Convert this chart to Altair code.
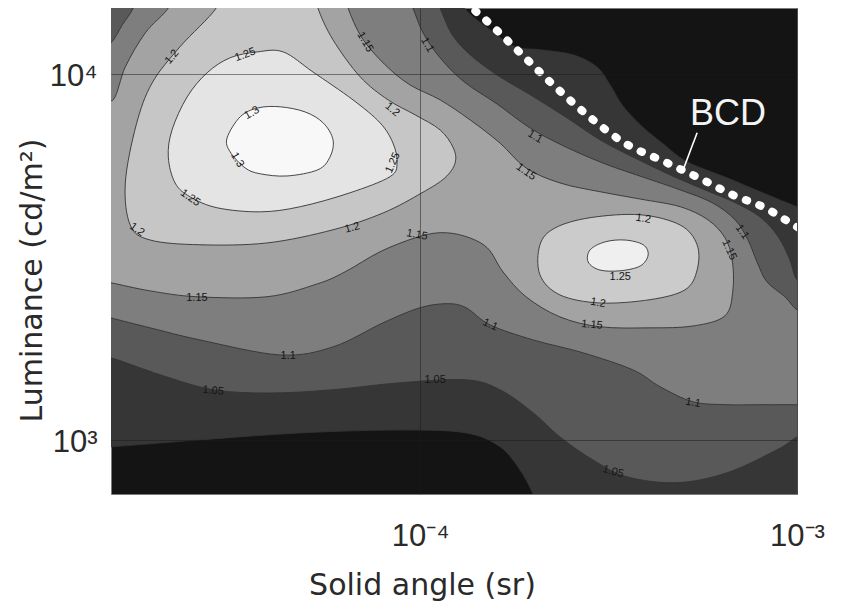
import altair as alt
import numpy as np
import pandas as pd

# Axis extents (log10 units)
x_domain_log = [-4.82, -3.0]      # solid angle, sr
y_domain_log = [2.852, 4.18]      # luminance, cd/m2

# Filled contour regions: vertices as (log10 solid angle, log10 luminance)
r100 = [(-4.862, 2.981), (-4.820, 2.981), (-4.584, 3.000), (-4.318, 3.019), (-4.053, 3.027),
        (-3.878, 3.019), (-3.788, 2.981), (-3.735, 2.918), (-3.700, 2.852), (-3.682, 2.803),
        (-2.952, 2.803), (-2.952, 3.623), (-3.000, 3.637), (-3.098, 3.678), (-3.186, 3.716),
        (-3.292, 3.760), (-3.358, 3.811), (-3.416, 3.861), (-3.464, 3.915), (-3.496, 3.970),
        (-3.531, 4.019), (-3.594, 4.052), (-3.682, 4.066), (-3.748, 4.074), (-3.814, 4.120),
        (-3.883, 4.180), (-3.894, 4.230), (-4.862, 4.230)]
r105 = [(-4.862, 3.224), (-4.820, 3.224), (-4.690, 3.178), (-4.549, 3.137), (-4.398, 3.128),
        (-4.231, 3.137), (-4.053, 3.156), (-3.878, 3.164), (-3.788, 3.137), (-3.700, 3.074),
        (-3.629, 3.008), (-3.541, 2.945), (-3.451, 2.899), (-3.318, 2.883), (-3.186, 2.910),
        (-3.053, 2.973), (-3.000, 3.008), (-2.952, 3.027), (-2.952, 3.410), (-3.000, 3.437),
        (-3.019, 3.492), (-3.050, 3.555), (-3.098, 3.609), (-3.164, 3.648), (-3.244, 3.683),
        (-3.337, 3.724), (-3.430, 3.770), (-3.523, 3.820), (-3.615, 3.883), (-3.708, 3.943),
        (-3.796, 3.997), (-3.867, 4.052), (-3.915, 4.107), (-3.947, 4.180), (-3.968, 4.230),
        (-4.862, 4.230)]
r110 = [(-4.862, 4.066), (-4.820, 4.085), (-4.790, 4.134), (-4.761, 4.180), (-4.751, 4.230),
        (-4.040, 4.230), (-4.019, 4.180), (-3.992, 4.112), (-3.947, 4.044), (-3.883, 3.978),
        (-3.796, 3.918), (-3.708, 3.852), (-3.615, 3.801), (-3.509, 3.754), (-3.403, 3.716),
        (-3.310, 3.683), (-3.225, 3.648), (-3.164, 3.601), (-3.130, 3.546), (-3.106, 3.486),
        (-3.080, 3.432), (-3.032, 3.391), (-3.000, 3.355), (-2.952, 3.333), (-2.952, 3.096),
        (-3.000, 3.096), (-3.098, 3.096), (-3.186, 3.096), (-3.276, 3.104), (-3.363, 3.145),
        (-3.435, 3.191), (-3.568, 3.238), (-3.700, 3.273), (-3.814, 3.314), (-3.878, 3.361),
        (-3.928, 3.372), (-4.000, 3.361), (-4.098, 3.320), (-4.231, 3.254), (-4.371, 3.232),
        (-4.584, 3.273), (-4.716, 3.306), (-4.820, 3.333), (-4.862, 3.342)]
r115 = [(-4.862, 3.915), (-4.814, 3.929), (-4.782, 4.019), (-4.729, 4.112), (-4.668, 4.180),
        (-4.658, 4.230), (-4.199, 4.230), (-4.191, 4.180), (-4.154, 4.098), (-4.093, 4.025),
        (-4.027, 3.970), (-3.947, 3.929), (-3.867, 3.874), (-3.788, 3.811), (-3.719, 3.743),
        (-3.629, 3.702), (-3.523, 3.678), (-3.416, 3.658), (-3.310, 3.637), (-3.236, 3.601),
        (-3.191, 3.552), (-3.172, 3.492), (-3.170, 3.410), (-3.191, 3.339), (-3.276, 3.311),
        (-3.390, 3.306), (-3.523, 3.309), (-3.629, 3.336), (-3.719, 3.391), (-3.780, 3.459),
        (-3.822, 3.525), (-3.883, 3.557), (-3.947, 3.566), (-4.013, 3.552), (-4.106, 3.514),
        (-4.199, 3.459), (-4.273, 3.426), (-4.406, 3.391), (-4.592, 3.391), (-4.716, 3.407),
        (-4.820, 3.429), (-4.862, 3.434)]
r120_left = [(-4.541, 4.230), (-4.541, 4.180), (-4.637, 4.074), (-4.711, 3.975), (-4.753, 3.861),
             (-4.782, 3.702), (-4.769, 3.587), (-4.716, 3.546), (-4.584, 3.533), (-4.406, 3.538),
             (-4.231, 3.574), (-4.098, 3.620), (-3.995, 3.675), (-3.934, 3.716), (-3.907, 3.757),
             (-3.912, 3.798), (-3.947, 3.847), (-4.013, 3.888), (-4.085, 3.929), (-4.159, 3.992),
             (-4.231, 4.093), (-4.271, 4.180), (-4.276, 4.230)]
r125_left = [(-4.432, 4.060), (-4.363, 4.060), (-4.284, 4.005), (-4.178, 3.929), (-4.106, 3.866),
             (-4.072, 3.811), (-4.061, 3.757), (-4.080, 3.719), (-4.186, 3.675), (-4.318, 3.637),
             (-4.424, 3.623), (-4.538, 3.634), (-4.610, 3.664), (-4.650, 3.702), (-4.668, 3.773),
             (-4.658, 3.847), (-4.618, 3.937), (-4.565, 4.003), (-4.504, 4.044)]
r130_left = [(-4.371, 3.910), (-4.305, 3.896), (-4.257, 3.866), (-4.231, 3.820), (-4.239, 3.773),
             (-4.271, 3.738), (-4.353, 3.721), (-4.424, 3.727), (-4.464, 3.743), (-4.504, 3.787),
             (-4.512, 3.825), (-4.477, 3.883), (-4.430, 3.907)]
r120_right = [(-3.682, 3.533), (-3.642, 3.579), (-3.549, 3.607), (-3.416, 3.615), (-3.310, 3.587),
              (-3.265, 3.533), (-3.265, 3.464), (-3.297, 3.410), (-3.390, 3.383), (-3.523, 3.374),
              (-3.629, 3.396), (-3.682, 3.451)]
r125_right = [(-3.549, 3.519), (-3.509, 3.541), (-3.456, 3.546), (-3.408, 3.533), (-3.395, 3.505),
              (-3.416, 3.475), (-3.469, 3.462), (-3.523, 3.464), (-3.554, 3.486)]

region_order = [r100, r105, r110, r115, r120_left, r125_left, r130_left, r120_right, r125_right]
region_fill = ["#363636", "#595959", "#7e7e7e", "#a3a3a3", "#c6c6c6", "#e4e4e4", "#f8f8f8",
               "#cbcbcb", "#efefef"]

# Contour level labels: (text, log10 solid angle, log10 luminance, angle)
contour_labels = [
    ("1.2", -4.658, 4.046, 310), ("1.25", -4.464, 4.052, 340), ("1.15", -4.146, 4.087, 60),
    ("1.1", -3.981, 4.079, 60), ("1.3", -4.446, 3.893, 330), ("1.2", -4.074, 3.902, 40),
    ("1.3", -4.485, 3.765, 60), ("1.25", -4.072, 3.757, 295), ("1.25", -4.610, 3.661, 35),
    ("1.2", -4.751, 3.574, 35), ("1.2", -4.180, 3.579, 345), ("1.15", -4.008, 3.560, 10),
    ("1.1", -3.695, 3.828, 30), ("1.15", -3.719, 3.732, 35), ("1.2", -3.408, 3.604, 10),
    ("1.1", -3.146, 3.568, 55), ("1.15", -3.180, 3.519, 65), ("1.25", -3.469, 3.445, 0),
    ("1.2", -3.528, 3.374, 10), ("1.15", -3.544, 3.314, 5), ("1.15", -4.592, 3.388, 0),
    ("1.1", -3.814, 3.314, 25), ("1.1", -4.350, 3.230, 0), ("1.1", -3.276, 3.101, 10),
    ("1.05", -4.549, 3.134, 5), ("1.05", -3.960, 3.164, 0), ("1.05", -3.488, 2.913, 15),
]

# BCD boundary (dotted line), its label and leader line
bcd_line = [(-3.883, 4.197), (-3.841, 4.161), (-3.743, 4.066), (-3.655, 3.978), (-3.557, 3.888),
            (-3.462, 3.814), (-3.345, 3.757), (-3.249, 3.710), (-3.170, 3.669), (-3.085, 3.634),
            (-3.000, 3.582), (-2.952, 3.555)]
bcd_text = ("BCD", -3.183, 3.861)
bcd_leader = [(-3.265, 3.839), (-3.302, 3.738)]

FONT = "Liberation Sans"
TITLE_FONT = "DejaVu Sans"
TXT = "#2a2a2a"


def frame(points):
    arr = np.array(points, dtype=float)
    return pd.DataFrame({"x": 10 ** arr[:, 0], "y": 10 ** arr[:, 1], "i": np.arange(len(arr))})


xscale = alt.Scale(type="log", domain=[10 ** x_domain_log[0], 10 ** x_domain_log[1]], nice=False)
yscale = alt.Scale(type="log", domain=[10 ** y_domain_log[0], 10 ** y_domain_log[1]], nice=False)

xaxis = alt.Axis(values=[1e-4, 1e-3], labelExpr="datum.value < 0.0005 ? '10⁻⁴' : '10⁻³'",
                 grid=True, gridColor="#1a1a1a", gridOpacity=0.5, gridWidth=1,
                 ticks=False, domain=False, labelFlush=False, labelOverlap=False,
                 labelFont=FONT, labelFontSize=31, labelColor=TXT, labelPadding=27,
                 titleFont=TITLE_FONT, titleFontSize=30, titleFontWeight="normal", titleColor=TXT,
                 titleX=311, titleY=100, titleAlign="center", titleBaseline="alphabetic",
                 zindex=1)
yaxis = alt.Axis(values=[1e3, 1e4], labelExpr="datum.value > 5000 ? '10⁴' : '10³'",
                 grid=True, gridColor="#1a1a1a", gridOpacity=0.5, gridWidth=1,
                 ticks=False, domain=False, labelFlush=False, labelOverlap=False,
                 labelFont=FONT, labelFontSize=31, labelColor=TXT, labelPadding=14,
                 labelOffset=3,
                 titleFont=TITLE_FONT, titleFontSize=30, titleFontWeight="normal", titleColor=TXT,
                 titleAngle=270, titleX=-70, titleY=272, titleAlign="center",
                 titleBaseline="alphabetic", zindex=1)

X = alt.X("x:Q", scale=xscale, axis=xaxis, title="Solid angle (sr)")
Y = alt.Y("y:Q", scale=yscale, axis=yaxis, title="Luminance (cd/m²)")

layers = []
for pts, col in zip(region_order, region_fill):
    layers.append(
        alt.Chart(frame(pts)).mark_line(
            interpolate="cardinal-closed", filled=True, fill=col, stroke="#333333",
            strokeWidth=0.9, clip=True
        ).encode(x=X, y=Y, order=alt.Order("i:Q"))
    )

lab_df = pd.DataFrame({
    "t": [c[0] for c in contour_labels],
    "x": [10 ** c[1] for c in contour_labels],
    "y": [10 ** c[2] for c in contour_labels],
    "a": [c[3] for c in contour_labels],
})
layers.append(
    alt.Chart(lab_df).mark_text(font=FONT, fontSize=11, color="#151515", align="center",
                                baseline="middle", clip=True)
    .encode(x=X, y=Y, text="t:N", angle=alt.Angle("a:Q", scale=None))
)

layers.append(
    alt.Chart(frame(bcd_line)).mark_line(
        interpolate="monotone", color="#ffffff", strokeWidth=8, strokeDash=[1.5, 13],
        strokeCap="round", clip=True
    ).encode(x=X, y=Y, order=alt.Order("i:Q"))
)
layers.append(
    alt.Chart(frame(bcd_leader)).mark_line(color="#ffffff", strokeWidth=1.6, clip=True)
    .encode(x=X, y=Y, order=alt.Order("i:Q"))
)
bcd_df = pd.DataFrame({"t": [bcd_text[0]], "x": [10 ** bcd_text[1]], "y": [10 ** bcd_text[2]]})
layers.append(
    alt.Chart(bcd_df).mark_text(font=FONT, fontSize=36, color="#f4f4f4", align="center",
                                baseline="alphabetic")
    .encode(x=X, y=Y, text="t:N")
)

chart = alt.layer(*layers).properties(
    width=686, height=486,
    autosize=alt.AutoSizeParams(type="none"),
    padding={"left": 103, "top": 0, "right": 40, "bottom": 108},
    background="#ffffff",
).configure_view(fill="#141414", stroke="#7a7a7a", strokeWidth=1)

chart.save("out.html", embed_options={"renderer": "svg", "actions": False})
